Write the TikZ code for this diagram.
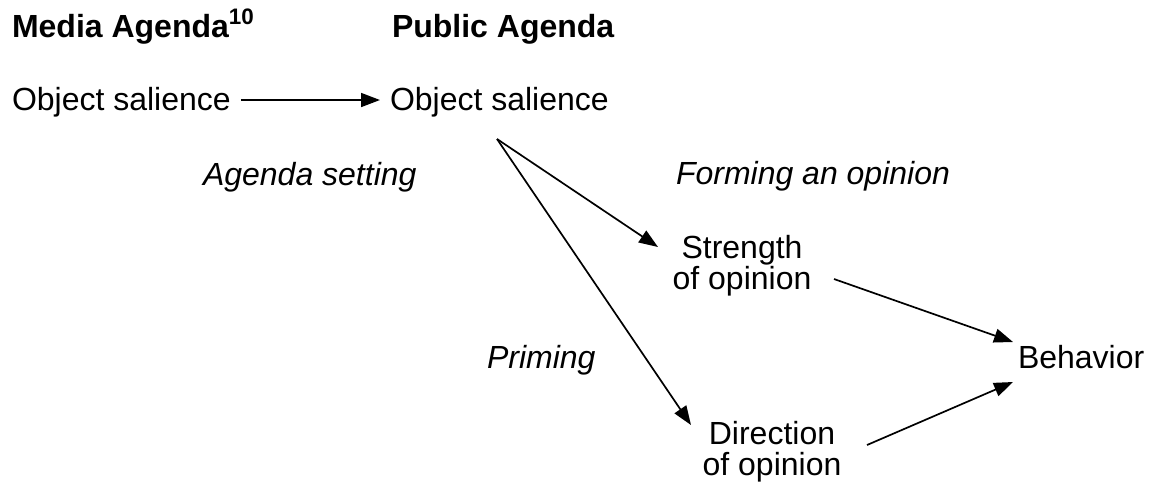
\documentclass[tikz,border=0pt]{standalone}
\usepackage{fontspec}
\setmainfont{Liberation Sans}
\usetikzlibrary{arrows.meta}
\begin{document}
\begin{tikzpicture}[x=0.5pt,y=-0.5pt,
  lbl/.style={inner sep=0pt,outer sep=0pt,font=\fontsize{16}{15.5}\selectfont},
  hd/.style={lbl,font=\fontsize{16}{15.5}\selectfont\bfseries},
  it/.style={lbl,font=\fontsize{16}{15.5}\selectfont\itshape},
  arr/.style={line width=0.85pt,-{Triangle[length=9.5pt,width=7pt]}}]
\useasboundingbox (0,0) rectangle (1149,484);
\node[hd,anchor=base west] (ma) at (12,37) {Media Agenda\textsuperscript{10}};
\node[hd,anchor=base west] (pa) at (392,37) {Public Agenda};
\node[lbl,anchor=base west] (os1) at (12,110) {Object salience};
\node[lbl,anchor=base west] (os2) at (390,110) {Object salience};
\node[it,anchor=base west] (as) at (203,185) {Agenda setting};
\node[it,anchor=base west] (fo) at (676,184) {Forming an opinion};
\node[it,anchor=base west] (pr) at (487,368) {Priming};
\node[lbl,align=center,anchor=base] (so) at (742,289) {Strength\\of opinion};
\node[lbl,align=center,anchor=base] (dop) at (772,475) {Direction\\of opinion};
\node[lbl,anchor=base west] (be) at (1018,368) {Behavior};
\draw[arr] ([shift={(10,-10)}]os1.base east) -- ([shift={(-10,-10)}]os2.base west);
\draw[arr] ([shift={(107,29)}]os2.base west) -- ([shift={(-84,-42)}]so.base);
\draw[arr] ([shift={(107,29)}]os2.base west) -- ([shift={(-81,-50)}]dop.base);
\draw[arr] ([shift={(92,-10)}]so.base) -- ([shift={(-5,-26)}]be.base west);
\draw[arr] ([shift={(95,-30)}]dop.base) -- ([shift={(-5,14)}]be.base west);
\end{tikzpicture}
\end{document}
